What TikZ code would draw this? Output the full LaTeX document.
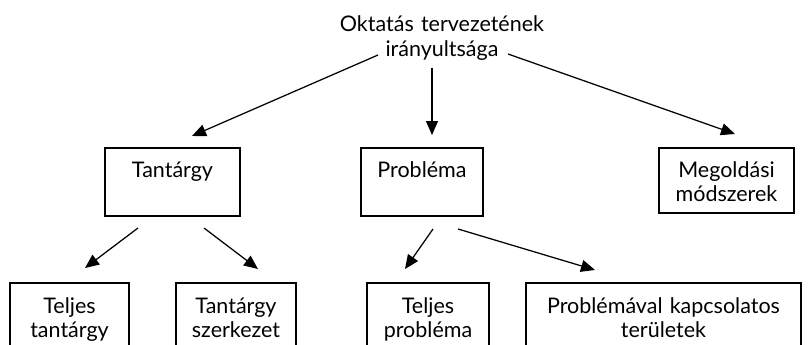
\documentclass[tikz,border=0pt]{standalone}
\usepackage{fontspec}
\setmainfont{Lato}
\usetikzlibrary{arrows.meta}
\begin{document}
\begin{tikzpicture}[x=1pt,y=-1pt,
  every node/.style={font=\fontsize{21.5}{24.5}\selectfont},
  box/.style={draw, line width=1.25pt, align=center, inner xsep=0pt, inner ysep=0pt, anchor=base},
  arr/.style={line width=1.25pt, -{Triangle[length=14pt,width=12pt]}}]
\clip (0,0) rectangle (811,345);
\useasboundingbox (0,0) rectangle (811,345);
% title
\node[align=center, anchor=base, inner sep=0pt, text width=300pt] (title) at (442,32) {Oktatás tervezetének\\irányultsága};
% middle row
\node[box, text width=135pt, text height=29pt, text depth=39pt] (tant) at (172.5,177) {Tantárgy};
\node[box, text width=122pt, text height=29pt, text depth=39pt] (prob) at (422,177) {Probléma};
\node[box, text width=135pt, text height=29pt, text depth=36pt] (meg) at (726.5,177) {Megoldási\\módszerek};
% bottom row
\node[box, text width=119pt, text height=30pt, text depth=50pt] (tt) at (69.5,313) {Teljes\\tantárgy};
\node[box, text width=120pt, text height=30pt, text depth=50pt] (tsz) at (236,313) {Tantárgy\\szerkezet};
\node[box, text width=122pt, text height=30pt, text depth=50pt] (tp) at (428,313) {Teljes\\probléma};
\node[box, text width=275pt, text height=30pt, text depth=50pt] (pk) at (663.5,313) {Problémával kapcsolatos\\területek};
% arrow end points
\coordinate (a1s) at (378,55);  \coordinate (a1e) at (192,136);
\coordinate (a2s) at (432,68);  \coordinate (a2e) at (432,135);
\coordinate (a3s) at (508,54);  \coordinate (a3e) at (735,134);
\coordinate (a4s) at (138,228); \coordinate (a4e) at (85,268);
\coordinate (a5s) at (204,228); \coordinate (a5e) at (258,269);
\coordinate (a6s) at (433,229); \coordinate (a6e) at (405,269);
\coordinate (a7s) at (458,229); \coordinate (a7e) at (595,270);
\draw[arr] (a1s) -- (a1e);
\draw[arr] (a2s) -- (a2e);
\draw[arr] (a3s) -- (a3e);
\draw[arr] (a4s) -- (a4e);
\draw[arr] (a5s) -- (a5e);
\draw[arr] (a6s) -- (a6e);
\draw[arr] (a7s) -- (a7e);
\end{tikzpicture}
\end{document}
